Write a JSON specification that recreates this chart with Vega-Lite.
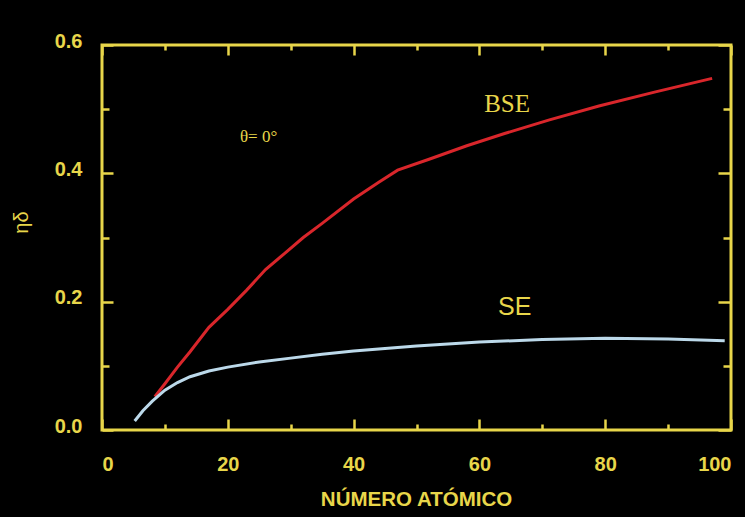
{
  "$schema": "https://vega.github.io/schema/vega-lite/v6.json",
  "width": 629,
  "height": 385,
  "autosize": "none",
  "padding": {"left": 102, "top": 45, "right": 14, "bottom": 87},
  "background": "#000000",
  "config": {
    "view": {"stroke": "#e8d64a", "strokeWidth": 3, "fill": "#000000"},
    "axis": {
      "domain": false,
      "grid": false,
      "tickColor": "#e8d64a",
      "tickWidth": 2.5,
      "labelColor": "#e8d64a",
      "labelFont": "Liberation Sans",
      "labelFontWeight": "bold",
      "labelFontSize": 20,
      "titleColor": "#e8d64a",
      "titleFont": "Liberation Sans"
    }
  },
  "datasets": {
    "curves": [
      {"serie": "BSE", "z": 8.4, "eta": 0.052},
      {"serie": "BSE", "z": 10, "eta": 0.072},
      {"serie": "BSE", "z": 12, "eta": 0.098},
      {"serie": "BSE", "z": 14, "eta": 0.122},
      {"serie": "BSE", "z": 17, "eta": 0.16},
      {"serie": "BSE", "z": 20, "eta": 0.188},
      {"serie": "BSE", "z": 23, "eta": 0.218},
      {"serie": "BSE", "z": 26, "eta": 0.25},
      {"serie": "BSE", "z": 29, "eta": 0.275},
      {"serie": "BSE", "z": 32, "eta": 0.3},
      {"serie": "BSE", "z": 35, "eta": 0.322},
      {"serie": "BSE", "z": 40, "eta": 0.36},
      {"serie": "BSE", "z": 44, "eta": 0.386},
      {"serie": "BSE", "z": 47, "eta": 0.405},
      {"serie": "BSE", "z": 52, "eta": 0.422},
      {"serie": "BSE", "z": 58, "eta": 0.443},
      {"serie": "BSE", "z": 64, "eta": 0.462},
      {"serie": "BSE", "z": 71, "eta": 0.483},
      {"serie": "BSE", "z": 79, "eta": 0.505},
      {"serie": "BSE", "z": 88, "eta": 0.527},
      {"serie": "BSE", "z": 97, "eta": 0.548},
      {"serie": "SE", "z": 5.2, "eta": 0.014},
      {"serie": "SE", "z": 6.5, "eta": 0.03},
      {"serie": "SE", "z": 8, "eta": 0.045},
      {"serie": "SE", "z": 10, "eta": 0.062},
      {"serie": "SE", "z": 12, "eta": 0.074},
      {"serie": "SE", "z": 14, "eta": 0.083},
      {"serie": "SE", "z": 17, "eta": 0.092},
      {"serie": "SE", "z": 20, "eta": 0.098},
      {"serie": "SE", "z": 25, "eta": 0.106},
      {"serie": "SE", "z": 30, "eta": 0.112},
      {"serie": "SE", "z": 35, "eta": 0.118},
      {"serie": "SE", "z": 40, "eta": 0.123},
      {"serie": "SE", "z": 50, "eta": 0.131},
      {"serie": "SE", "z": 60, "eta": 0.137},
      {"serie": "SE", "z": 70, "eta": 0.141},
      {"serie": "SE", "z": 80, "eta": 0.143},
      {"serie": "SE", "z": 90, "eta": 0.142},
      {"serie": "SE", "z": 99, "eta": 0.139}
    ]
  },
  "data": {"name": "curves"},
  "layer": [
    {
      "transform": [{"filter": "datum.serie === 'BSE'"}],
      "mark": {"type": "line", "color": "#d9262b", "strokeWidth": 3},
      "encoding": {
        "x": {
          "field": "z",
          "type": "quantitative",
          "scale": {"domain": [0, 100], "nice": false},
          "axis": {
            "orient": "bottom",
            "values": [0, 10, 20, 30, 40, 50, 60, 70, 80, 90, 100],
            "labelExpr": "datum.value % 20 === 0 ? datum.label : ''",
            "tickSize": {"condition": {"test": "datum.value % 20 === 0", "value": -11}, "value": -6},
            "labelPadding": 45,
            "labelBaseline": "middle",
            "title": "NÚMERO ATÓMICO",
            "titleFontSize": 20.5,
            "titleFontWeight": "bold",
            "titleBaseline": "middle",
            "titleX": 314,
            "titleY": 69
          }
        },
        "y": {
          "field": "eta",
          "type": "quantitative",
          "scale": {"domain": [0, 0.6], "nice": false},
          "axis": {
            "orient": "left",
            "values": [0, 0.1, 0.2, 0.3, 0.4, 0.5, 0.6],
            "labelExpr": "round(datum.value * 10) % 2 === 0 ? format(datum.value, '.1f') : ''",
            "tickSize": {"condition": {"test": "round(datum.value * 10) % 2 === 0", "value": -11}, "value": -7},
            "labelPadding": 31,
            "labelOffset": -4,
            "title": "ηδ",
            "titleFontSize": 20,
            "titleFontWeight": "normal",
            "titleBaseline": "middle",
            "titleX": -81,
            "titleY": 177
          }
        }
      }
    },
    {
      "transform": [{"filter": "datum.serie === 'SE'"}],
      "mark": {"type": "line", "color": "#bcd9ea", "strokeWidth": 3},
      "encoding": {
        "x": {
          "field": "z",
          "type": "quantitative",
          "axis": {
            "orient": "top",
            "values": [0, 10, 20, 30, 40, 50, 60, 70, 80, 90, 100],
            "labels": false,
            "title": null,
            "tickSize": {"condition": {"test": "datum.value % 20 === 0", "value": -10}, "value": -5}
          }
        },
        "y": {
          "field": "eta",
          "type": "quantitative",
          "axis": {
            "orient": "right",
            "values": [0, 0.1, 0.2, 0.3, 0.4, 0.5, 0.6],
            "labels": false,
            "title": null,
            "tickSize": {"condition": {"test": "round(datum.value * 10) % 2 === 0", "value": -13}, "value": -8}
          }
        }
      }
    },
    {
      "data": {"values": [{"label": "BSE"}]},
      "mark": {"type": "text", "font": "Liberation Serif", "fontSize": 25, "color": "#e8d64a", "align": "center", "baseline": "middle"},
      "encoding": {
        "x": {"datum": 64.4, "type": "quantitative", "axis": null},
        "y": {"datum": 0.508, "type": "quantitative", "axis": null},
        "text": {"field": "label"}
      }
    },
    {
      "data": {"values": [{"label": "SE"}]},
      "mark": {"type": "text", "font": "Liberation Sans", "fontSize": 25, "color": "#e8d64a", "align": "center", "baseline": "middle"},
      "encoding": {
        "x": {"datum": 65.6, "type": "quantitative", "axis": null},
        "y": {"datum": 0.192, "type": "quantitative", "axis": null},
        "text": {"field": "label"}
      }
    },
    {
      "data": {"values": [{"label": "θ= 0°"}]},
      "mark": {"type": "text", "font": "Liberation Serif", "fontSize": 17, "color": "#e8d64a", "align": "center", "baseline": "middle"},
      "encoding": {
        "x": {"datum": 24.9, "type": "quantitative", "axis": null},
        "y": {"datum": 0.456, "type": "quantitative", "axis": null},
        "text": {"field": "label"}
      }
    }
  ],
  "resolve": {"axis": {"x": "independent", "y": "independent"}}
}
